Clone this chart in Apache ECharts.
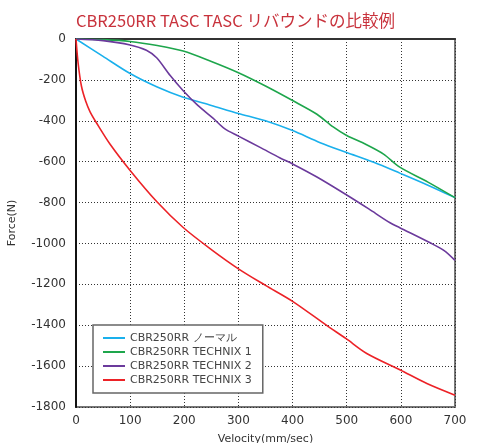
<!DOCTYPE html>
<html>
<head>
<meta charset="utf-8">
<script src="https://cdn.jsdelivr.net/npm/echarts@6/dist/echarts.min.js"></script>
<style>
  html, body { margin: 0; padding: 0; background: #fff; }
  #chart { width: 481px; height: 443px; }
</style>
</head>
<body>
<div id="chart"></div>
<script>
var titleText = "CBR250RR TASC TASC リバウンドの比較例";
var seriesNames = ["CBR250RR ノーマル", "CBR250RR TECHNIX 1", "CBR250RR TECHNIX 2", "CBR250RR TECHNIX 3"];
var seriesColors = ["#1ab0ec", "#1ea64c", "#6b3a9c", "#ec2227"];

// [velocity, force]
var normal = [[0, 0], [50, -85], [100, -169], [150, -235], [198, -285], [250, -325], [300, -364], [350, -400], [400, -448], [451, -507], [500, -555], [550, -603], [598, -656], [650, -715], [700, -776]];
var technix1 = [[0, 0], [50, -3], [100, -12], [150, -32], [198, -59], [250, -110], [300, -165], [350, -230], [400, -301], [445, -368], [475, -430], [500, -472], [535, -515], [568, -563], [598, -627], [650, -700], [700, -776]];
var technix2 = [[0, 0], [50, -8], [100, -29], [130, -55], [149, -92], [174, -179], [198, -253], [225, -325], [253, -387], [275, -440], [300, -475], [340, -530], [377, -582], [400, -611], [445, -675], [500, -763], [540, -830], [580, -899], [598, -923], [654, -997], [680, -1035], [700, -1083]];
var technix3 = [[0, 0], [4, -120], [10, -230], [18, -305], [26, -356], [38, -411], [63, -515], [100, -643], [149, -795], [198, -922], [250, -1030], [300, -1124], [350, -1205], [400, -1283], [463, -1401], [499, -1466], [537, -1538], [599, -1619], [648, -1685], [700, -1742]];

var xTicks = { min: 0, max: 700, interval: 100 };
var yTicks = { min: -1800, max: 0, interval: 200 };

var chart = echarts.init(document.getElementById("chart"));
var allData = [normal, technix1, technix2, technix3];

chart.setOption({
  animation: false,
  title: {
    text: titleText,
    left: 71,
    top: 7,
    textStyle: {
      fontFamily: "Noto Sans CJK JP",
      fontSize: 16.5,
      fontWeight: "normal",
      color: "#c8323c"
    }
  },
  grid: {
    left: 76,
    right: 26,
    top: 39,
    bottom: 36,
    outerBoundsMode: "none",
    show: true,
    borderColor: "#777",
    borderWidth: 2
  },
  legend: {
    orient: "vertical",
    left: 93,
    top: 325,
    data: seriesNames,
    icon: "rect",
    itemWidth: 22,
    itemHeight: 2,
    itemGap: 2,
    padding: [7, 11, 7, 10],
    backgroundColor: "#fff",
    borderColor: "#666",
    borderWidth: 1.5,
    textStyle: { fontFamily: "DejaVu Sans", fontSize: 11, color: "#444", lineHeight: 12 }
  },
  xAxis: {
    type: "value",
    min: xTicks.min,
    max: xTicks.max,
    interval: xTicks.interval,
    name: "Velocity(mm/sec)",
    nameLocation: "middle",
    nameGap: 27,
    nameTextStyle: { fontFamily: "DejaVu Sans", fontSize: 11, color: "#333" },
    axisLine: { lineStyle: { color: "#333", width: 2 } },
    axisTick: { show: false },
    axisLabel: { fontFamily: "DejaVu Sans", fontSize: 12, color: "#333", margin: 8 },
    splitLine: { lineStyle: { color: "#333", type: [1, 2], width: 1 } }
  },
  yAxis: {
    type: "value",
    min: yTicks.min,
    max: yTicks.max,
    interval: yTicks.interval,
    name: "Force(N)",
    nameLocation: "middle",
    nameGap: 58,
    nameTextStyle: { fontFamily: "DejaVu Sans", fontSize: 11, color: "#333" },
    axisLine: { show: true, lineStyle: { color: "#111", width: 2 } },
    axisTick: { show: false },
    axisLabel: {
      fontFamily: "DejaVu Sans", fontSize: 12, color: "#333", margin: 10,
      formatter: function (v) { return String(v); }
    },
    splitLine: { lineStyle: { color: "#333", type: [1, 2], width: 1 } }
  },
  series: seriesNames.map(function (n, i) {
    return {
      name: n,
      type: "line",
      data: allData[i],
      symbol: "none",
      smooth: 0.3,
      color: seriesColors[i],
      lineStyle: { width: 1.6, color: seriesColors[i] },
      z: 2 + i
    };
  })
});
</script>
</body>
</html>
